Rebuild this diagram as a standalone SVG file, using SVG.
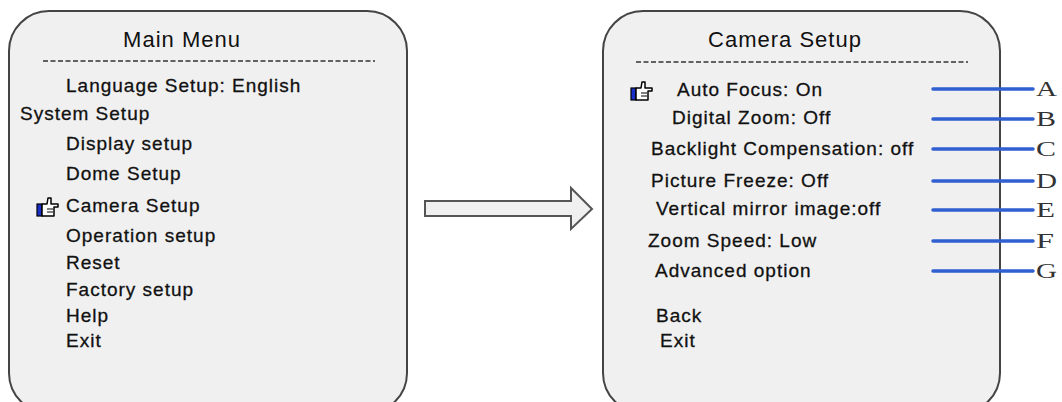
<svg xmlns="http://www.w3.org/2000/svg" width="1062" height="402" viewBox="0 0 1062 402">
<style>
.panel{fill:#f0f0f0;stroke:#444;stroke-width:2}
.title{font-family:"Liberation Sans",Arial,sans-serif;font-size:22px;letter-spacing:1px;fill:#111;text-anchor:middle}
.item{font-family:"Liberation Sans",Arial,sans-serif;font-size:19px;letter-spacing:1px;fill:#111;stroke:#111;stroke-width:0.3}
.dash{stroke:#333;stroke-width:1.5;stroke-dasharray:5 2.5}
.lead{stroke:#2f5fd0;stroke-width:3.5;stroke-linecap:round}
.tag{font-family:"Liberation Serif","Times New Roman",serif;font-size:21px;fill:#333}
.arrow{fill:#f0f0f0;stroke:#555;stroke-width:2}
</style>
<defs>
<symbol id="hand" viewBox="0 0 24 22" width="24" height="22">
<rect x="1" y="8" width="5" height="12" fill="#1a2ec8" stroke="#000" stroke-width="1.2"/>
<path d="M6,8 L11,8 L12,2 L15,2 L15,8 L22,8 L22,11 L18,11 L18,20 L6,20 Z" fill="#fff" stroke="#000" stroke-width="1.5" stroke-linejoin="round"/>
<path d="M11,13 L17,13 M11,16 L17,16" stroke="#000" stroke-width="1"/>
</symbol>
</defs>
<rect width="1062" height="402" fill="#fff"/>

<g id="main-menu">
<rect class="panel" x="9" y="11" width="398" height="402" rx="40" ry="40"/>
<text class="title" x="182" y="47">Main Menu</text>
<line class="dash" x1="43" y1="61" x2="375" y2="61"/>
<text class="item" x="66" y="92">Language Setup: English</text>
<text class="item" x="20" y="120">System Setup</text>
<text class="item" x="66" y="150">Display setup</text>
<text class="item" x="66" y="180">Dome Setup</text>
<use href="#hand" x="36" y="196"/>
<text class="item" x="66" y="212">Camera Setup</text>
<text class="item" x="66" y="242">Operation setup</text>
<text class="item" x="66" y="269">Reset</text>
<text class="item" x="66" y="296">Factory setup</text>
<text class="item" x="66" y="322">Help</text>
<text class="item" x="66" y="347">Exit</text>
</g>

<g id="camera-setup">
<rect class="panel" x="603" y="11" width="397" height="402" rx="40" ry="40"/>
<text class="title" x="785" y="47">Camera Setup</text>
<line class="dash" x1="636" y1="62" x2="968" y2="62"/>
<use href="#hand" x="630" y="80"/>
<text class="item" x="677" y="96">Auto Focus: On</text>
<text class="item" x="672" y="124">Digital Zoom: Off</text>
<text class="item" x="651" y="155">Backlight Compensation: off</text>
<text class="item" x="651" y="187">Picture Freeze: Off</text>
<text class="item" x="656" y="215">Vertical mirror image:off</text>
<text class="item" x="648" y="247">Zoom Speed: Low</text>
<text class="item" x="655" y="277">Advanced option</text>
<text class="item" x="656" y="322">Back</text>
<text class="item" x="660" y="347">Exit</text>
</g>

<g id="connectors">
<polygon class="arrow" points="425,201 571,201 571,188 592,209 571,229 571,216 425,216"/>
<line class="lead" x1="933" y1="89" x2="1033" y2="89"/>
<line class="lead" x1="933" y1="119" x2="1033" y2="119"/>
<line class="lead" x1="933" y1="149" x2="1033" y2="149"/>
<line class="lead" x1="933" y1="181" x2="1033" y2="181"/>
<line class="lead" x1="933" y1="210" x2="1033" y2="210"/>
<line class="lead" x1="933" y1="241" x2="1033" y2="241"/>
<line class="lead" x1="933" y1="271" x2="1033" y2="271"/>
</g>

<g id="labels">
<text class="tag" x="1036" y="96" textLength="21" lengthAdjust="spacingAndGlyphs">A</text>
<text class="tag" x="1036" y="126" textLength="20" lengthAdjust="spacingAndGlyphs">B</text>
<text class="tag" x="1036" y="156" textLength="20" lengthAdjust="spacingAndGlyphs">C</text>
<text class="tag" x="1036" y="188" textLength="21" lengthAdjust="spacingAndGlyphs">D</text>
<text class="tag" x="1036" y="217" textLength="19" lengthAdjust="spacingAndGlyphs">E</text>
<text class="tag" x="1036" y="248" textLength="18" lengthAdjust="spacingAndGlyphs">F</text>
<text class="tag" x="1036" y="278" textLength="21" lengthAdjust="spacingAndGlyphs">G</text>
</g>
</svg>
